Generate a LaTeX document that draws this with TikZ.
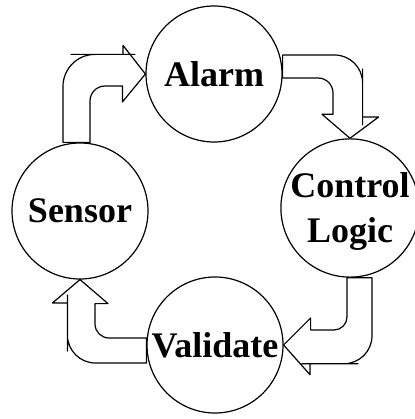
\documentclass[tikz,border=0pt]{standalone}
\usepackage{fontspec}
\setmainfont{Liberation Serif}
\usetikzlibrary{calc}

\tikzset{
  ring/.style={draw, circle, line width=1.2pt, minimum size=136pt, inner sep=0pt,
    font=\fontsize{36}{45}\selectfont\bfseries, align=center, text depth=0pt},
  blockarrow/.style={draw, line width=1.2pt, line join=round}
}

\begin{document}
\begin{tikzpicture}[x=1pt,y=-1pt]
  \useasboundingbox (0,0) rectangle (414,419);

  % Circles
  \node[ring] (alarm) at (214,74) {Alarm};
  \node[ring] (sensor) at (80,211) {Sensor};
  \node[ring] (control) at (350,208) {Control\\Logic};
  \node[ring] (validate) at (215,345) {Validate};

  % Sensor to Alarm
  \draw[blockarrow] ($(sensor.north)+(-17,0)$) [rounded corners=32pt] |- ++(40,-88)
    [sharp corners] -- ++(20,0) -- ++(0,-9) -- (alarm.west) -- ++(-23,28) -- ++(0,-16) -- ++(-10,0)
    [rounded corners=15pt] -| ($(sensor.north)+(10,-20)$)
    [sharp corners] -- ($(sensor.north)+(10,0)$) -- cycle;

  % Alarm to Control Logic
  \draw[blockarrow] ($(alarm.east)+(0,-19)$) [rounded corners=28pt] -| ++(80,42)
    [sharp corners] -- ++(0,20) -- ++(16,0) -- (control.north) -- ++(-28,-24) -- ++(11,0) -- ++(0,-10)
    [rounded corners=15pt] |- ($(alarm.east)+(20,4)$)
    [sharp corners] -- ($(alarm.east)+(0,4)$) -- cycle;

  % Control Logic to Validate
  \draw[blockarrow] ($(control.south)+(22,0)$) [rounded corners=28pt] |- ++(-42,86)
    [sharp corners] -- ++(-20,0) -- ++(0,11) -- (validate.east) -- ++(27,-27) -- ++(0,12) -- ++(10,0)
    [rounded corners=13pt] -| ($(control.south)+(-3,20)$)
    [sharp corners] -- ($(control.south)+(-3,0)$) -- cycle;

  % Validate to Sensor
  \draw[blockarrow] ($(validate.west)+(0,18)$) [rounded corners=28pt] -| ++(-79,-40)
    [sharp corners] -- ++(0,-20) -- ++(-15,0) -- (sensor.south) -- ++(28,24) -- ++(-13,0) -- ++(0,10)
    [rounded corners=14pt] |- ($(validate.west)+(-20,-7)$)
    [sharp corners] -- ($(validate.west)+(0,-7)$) -- cycle;
\end{tikzpicture}
\end{document}
